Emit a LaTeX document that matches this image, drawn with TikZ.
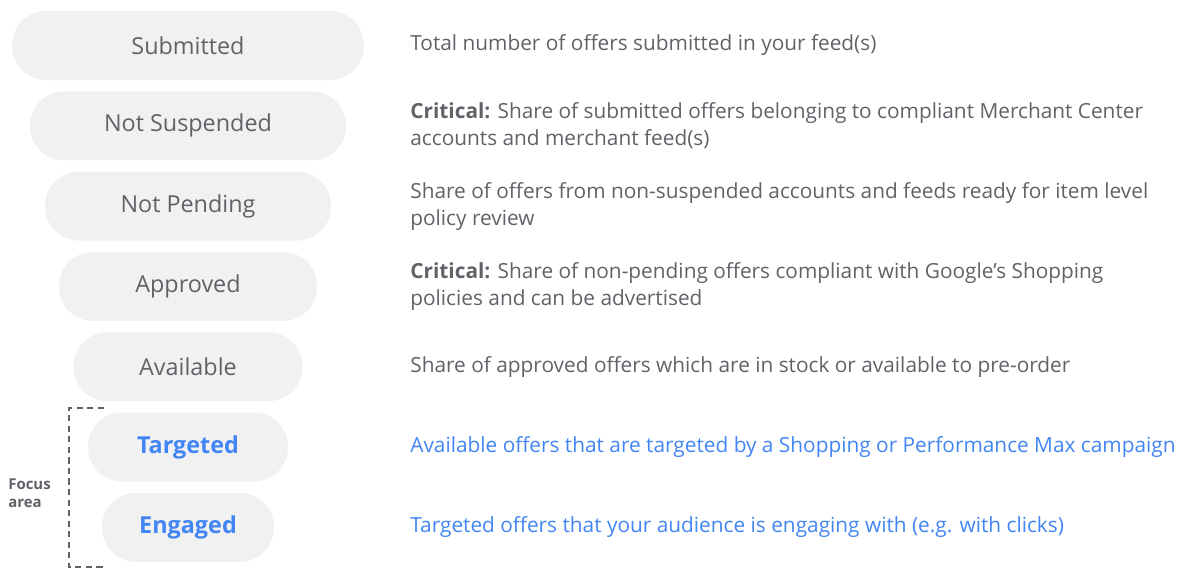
\documentclass[tikz,border=0pt]{standalone}
\usepackage{fontspec}
\setmainfont{Open Sans}
\usetikzlibrary{positioning}
\definecolor{pillgray}{HTML}{F1F1F1}
\definecolor{textgray}{HTML}{5F6368}
\definecolor{googleblue}{HTML}{4285F4}

\begin{document}
\begin{tikzpicture}[
    node distance=0.226cm,
    stage/.style={rectangle, rounded corners=0.68cm, fill=pillgray, minimum height=1.38cm, inner sep=0pt, outer sep=0pt, text=textgray, font=\fontsize{13.3}{16}\selectfont},
    focusstage/.style={stage, text=googleblue, font=\fontsize{13.3}{16}\selectfont\bfseries},
    desc/.style={anchor=west, align=left, inner sep=0pt, text=textgray, font=\fontsize{11.85}{15.3}\selectfont},
    focusdesc/.style={desc, text=googleblue}
]
\useasboundingbox (0,0) rectangle (24,-11.66);

% funnel stages
\node[stage, minimum width=7.04cm] (submitted) at (3.76,-0.91) {Submitted};
\node[stage, minimum width=6.32cm, below=of submitted] (notsuspended) {Not Suspended};
\node[stage, minimum width=5.72cm, below=of notsuspended] (notpending) {Not Pending};
\node[stage, minimum width=5.16cm, below=of notpending] (approved) {Approved};
\node[stage, minimum width=4.58cm, below=of approved] (available) {Available};
\node[focusstage, minimum width=4.0cm, below=of available] (targeted) {Targeted};
\node[focusstage, minimum width=3.44cm, below=of targeted] (engaged) {Engaged};

% descriptions
\coordinate (desccol) at (8.2,0);
\node[desc] (dsubmitted) at (submitted -| desccol) {Total number of offers submitted in your feed(s)};
\node[desc] (dnotsuspended) at (notsuspended -| desccol) {\textbf{Critical:} Share of submitted offers belonging to compliant Merchant Center\\accounts and merchant feed(s)};
\node[desc] (dnotpending) at (notpending -| desccol) {Share of offers from non-suspended accounts and feeds ready for item level\\policy review};
\node[desc] (dapproved) at (approved -| desccol) {\textbf{Critical:} Share of non-pending offers compliant with Google’s Shopping\\policies and can be advertised};
\node[desc] (davailable) at (available -| desccol) {Share of approved offers which are in stock or available to pre-order};
\node[focusdesc] (dtargeted) at (targeted -| desccol) {Available offers that are targeted by a Shopping or Performance Max campaign};
\node[focusdesc] (dengaged) at (engaged -| desccol) {Targeted offers that your audience is engaging with (e.g. with clicks)};

% focus area bracket
\coordinate (ftop) at (2.08,-8.16);
\coordinate (fbot) at (2.08,-11.34);
\draw[textgray, line width=0.6pt, dash pattern=on 3.5pt off 2.5pt] (ftop) -- ++(-0.7,0) |- (fbot);
\node[anchor=west, align=left, inner sep=0pt, text=textgray, font=\fontsize{8.5}{10.2}\selectfont\bfseries] (focuslabel) at (0.16,-9.86) {Focus\\area};

\end{tikzpicture}
\end{document}
